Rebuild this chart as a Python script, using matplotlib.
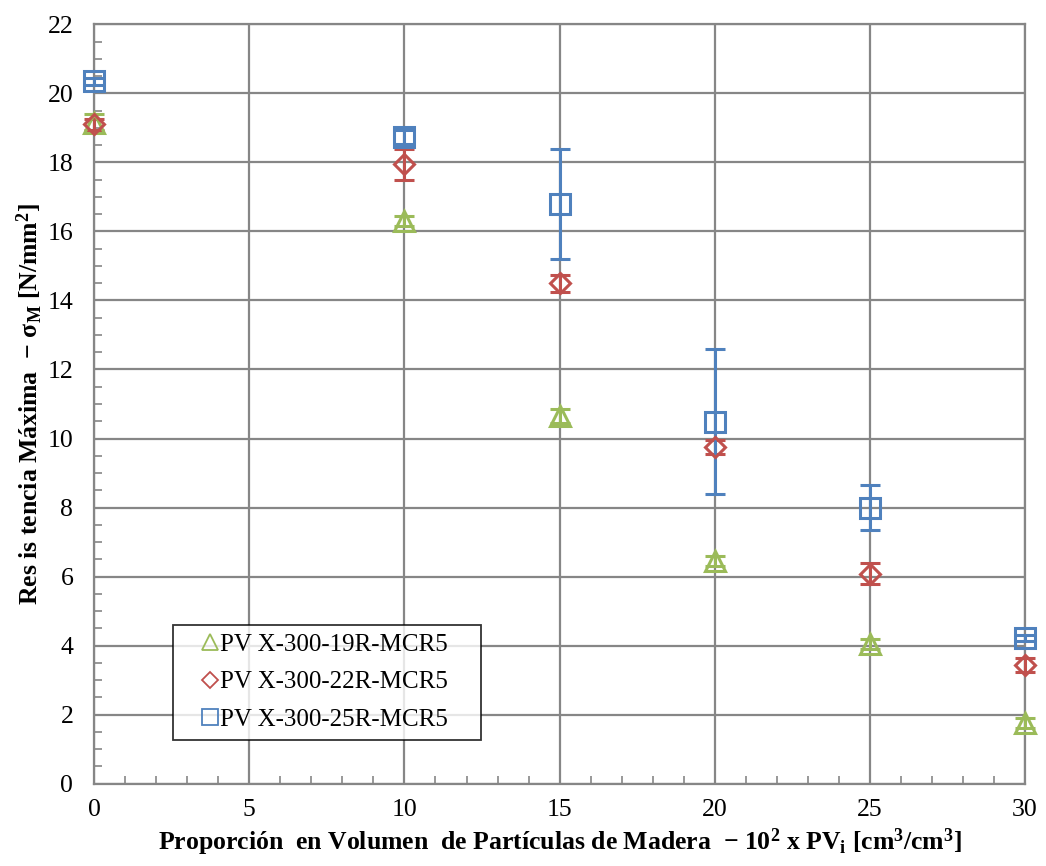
import matplotlib
matplotlib.use("Agg")
import matplotlib.pyplot as plt
from matplotlib.ticker import MultipleLocator
from matplotlib.lines import Line2D
from matplotlib.legend_handler import HandlerLine2D

plt.rcParams['font.family'] = ['Liberation Serif', 'DejaVu Serif']
plt.rcParams['mathtext.fontset'] = 'custom'
plt.rcParams['mathtext.rm'] = 'Liberation Serif'
plt.rcParams['mathtext.it'] = 'Liberation Serif:italic'
plt.rcParams['mathtext.bf'] = 'Liberation Serif:bold'
plt.rcParams['mathtext.default'] = 'bf'

# Volume fraction of wood particles (x 10^2)
proporcion = [0, 10, 15, 20, 25, 30]

series_names = ["PV X-300-19R-MCR5", "PV X-300-22R-MCR5", "PV X-300-25R-MCR5"]

# Maximum strength [N/mm2] and standard deviations
res_19R = [19.15, 16.3, 10.65, 6.45, 4.05, 1.75]
err_19R = [0.25, 0.15, 0.2, 0.15, 0.15, 0.15]

res_22R = [19.1, 17.95, 14.5, 9.75, 6.08, 3.44]
err_22R = [0.15, 0.45, 0.25, 0.2, 0.3, 0.2]

res_25R = [20.35, 18.73, 16.8, 10.48, 8.0, 4.22]
err_25R = [0.1, 0.2, 1.6, 2.1, 0.65, 0.1]

colors = ["#9BBB59", "#C0504D", "#4F81BD"]
markers = ["^", "D", "s"]
msizes = [14, 10, 14]

fig = plt.figure(figsize=(10.46, 8.66), dpi=100)
ax = fig.add_axes([0.090, 0.095, 0.890, 0.877])

for y, e, c, m, ms in zip([res_19R, res_22R, res_25R],
                          [err_19R, err_22R, err_25R],
                          colors, markers, msizes):
    ax.errorbar(proporcion, y, yerr=e, fmt=m, color=c, ecolor=c,
                markerfacecolor='none', markeredgecolor=c, markeredgewidth=2.2,
                markersize=ms, elinewidth=2.2, capsize=7, capthick=2.2,
                clip_on=False, zorder=5)

ax.set_xlim(0, 30)
ax.set_ylim(0, 22)
ax.xaxis.set_major_locator(MultipleLocator(5))
ax.xaxis.set_minor_locator(MultipleLocator(1))
ax.yaxis.set_major_locator(MultipleLocator(2))
ax.yaxis.set_minor_locator(MultipleLocator(0.5))

grid_c = "#868686"
ax.grid(True, which='major', color=grid_c, linewidth=1.6)
ax.set_axisbelow(True)
for s in ax.spines.values():
    s.set_color(grid_c)
    s.set_linewidth(1.6)

ax.tick_params(which='both', direction='in', color=grid_c, width=1.2,
               labelsize=18.5)
ax.tick_params(axis='y', which='both', pad=15)
ax.tick_params(axis='x', which='both', pad=11)
ax.tick_params(which='major', length=0)
ax.tick_params(which='minor', length=6)

ax.set_xlabel(r"Proporción  en Volumen  de Partículas de Madera  $-$ 10$^{2}$ x PV$_{\mathbf{i}}$ [cm$^{3}$/cm$^{3}$]",
              fontsize=18.5, fontweight='bold', labelpad=4)
ax.set_ylabel(r"Res is tencia Máxima  $-$ $\sigma_{M}$ [N/mm$^{2}$]",
              fontsize=18.5, fontweight='bold', labelpad=2)

handles = [Line2D([], [], linestyle='none', marker=m, markersize=ms,
                  markerfacecolor='none', markeredgecolor=c, markeredgewidth=1.3)
           for m, c, ms in zip(markers, colors, [12, 8.5, 12])]
leg = ax.legend(handles, series_names, loc='lower left',
                bbox_to_anchor=(0.085, 0.058, 0.331, 0.155),
                mode='expand', fontsize=18, frameon=True, fancybox=False,
                handlelength=1.2, handletextpad=0.3, borderpad=0.35,
                labelspacing=0.6, borderaxespad=0,
                handler_map={Line2D: HandlerLine2D(numpoints=1, xpad=1.0)})
leg.get_frame().set_edgecolor('black')
leg.get_frame().set_linewidth(1.3)

fig.savefig("out.png", dpi=100, facecolor='white')
